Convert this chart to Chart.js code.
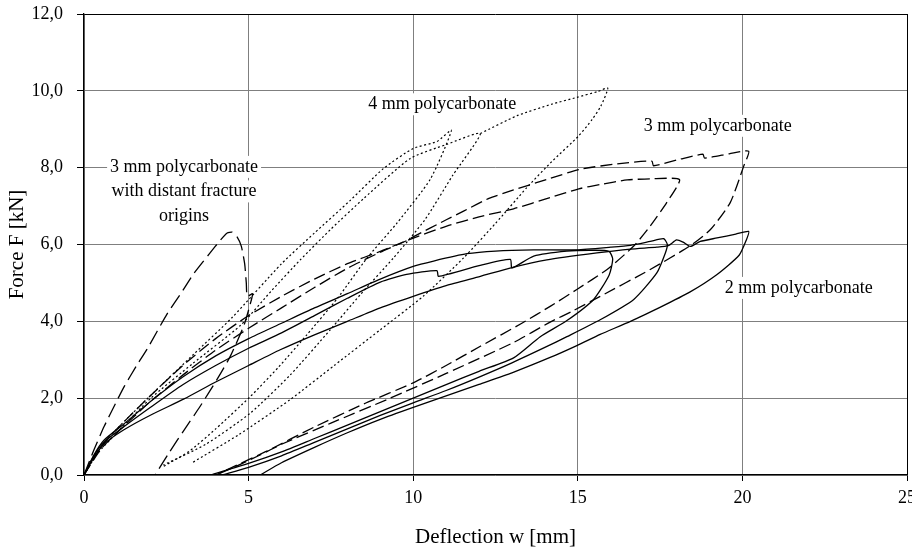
<!DOCTYPE html>
<html>
<head>
<meta charset="utf-8">
<script src="https://cdn.jsdelivr.net/npm/chart.js@4.4.1/dist/chart.umd.min.js"></script>
<style>
html, body { margin: 0; padding: 0; background: #fff; }
</style>
</head>
<body>
<canvas id="myChart" width="912" height="552"></canvas>
<script>
// axis ticks
const xTicks = [0, 5, 10, 15, 20, 25];
const yTicks = [0, 2, 4, 6, 8, 10, 12];

// [deflection w (mm), force F (kN)]

// 2 mm polycarbonate, solid
const pc2Cycle1 = [[0,0],[0.3,0.5],[0.6,0.85],[1.2,1.25],[2,1.75],[3,2.35],[4,2.85],[5,3.3],[6,3.7],[7,4.15],[8,4.6],[9,5.02],[9.8,5.22],[10.72,5.32],[10.77,5.17],[12,5.45],[12.95,5.61],[13,5.39],[13.66,5.7],[14.67,5.83],[15.5,5.85],[15.95,5.82],[16.06,5.62],[15.95,5.2],[15.48,4.57],[14.67,4.02],[13.86,3.6],[13.05,3.05],[12,2.7],[11,2.35],[10,2],[9,1.65],[8,1.3],[7,0.95],[6,0.6],[5,0.3],[3.85,0]];
const pc2Cycle2 = [[0,0],[0.3,0.52],[0.6,0.9],[1.2,1.32],[2,1.9],[3,2.55],[4,3.1],[5,3.55],[6,3.95],[7,4.35],[8,4.72],[9,5.1],[10,5.43],[10.62,5.57],[11.63,5.76],[12.5,5.83],[13.66,5.86],[14.97,5.86],[16,5.93],[16.6,5.98],[17.2,6.08],[17.61,6.15],[17.72,6],[17.66,5.78],[17.4,5.26],[16.7,4.57],[15.68,4.04],[14.67,3.6],[14,3.32],[13,2.92],[12,2.55],[11,2.2],[10,1.88],[9,1.55],[8,1.2],[7,0.85],[6,0.5],[5,0.2],[4.2,0]];
const pc2Cycle3 = [[0,0],[0.3,0.45],[0.6,0.8],[1.2,1.17],[2,1.55],[3.04,1.98],[4,2.42],[5,2.85],[5.96,3.26],[7,3.65],[8,4],[9,4.35],[10,4.65],[11,4.93],[12.04,5.17],[13,5.4],[14.06,5.6],[15.58,5.78],[16.6,5.88],[17.4,5.93],[17.75,5.97],[18,6.12],[18.2,6.06],[18.42,5.95],[18.72,6.08],[19.23,6.17],[19.8,6.27],[20.19,6.34],[20.12,6.12],[19.9,5.72],[19.23,5.22],[18.4,4.76],[17.51,4.37],[16.6,4],[15.68,3.66],[14.97,3.37],[14.16,3.06],[13,2.66],[12,2.36],[11,2.06],[10,1.76],[9,1.45],[8,1.1],[7,0.72],[6,0.32],[5.35,0]];

// 3 mm polycarbonate, dashed
const pc3Cycle1 = [[0,0],[0.5,0.72],[1,1.2],[2,2.05],[3,2.85],[4,3.55],[5,4.15],[6,4.65],[7,5.1],[8,5.5],[9,5.82],[9.8,6.1],[11.02,6.48],[12,6.72],[13.05,6.93],[14.16,7.22],[15.03,7.45],[15.68,7.56],[16.5,7.68],[17.2,7.71],[18.09,7.69],[17.7,7.09],[17.2,6.48],[16.7,5.96],[15.89,5.35],[14.97,4.83],[14.16,4.39],[13.3,3.95],[12.04,3.35],[11,2.85],[10,2.4],[8.5,1.85],[7,1.25],[5.5,0.6],[4.5,0.2],[4,0]];
const pc3Cycle2 = [[0,0],[0.5,0.66],[1,1.1],[2,1.9],[3,2.6],[4,3.25],[5,3.82],[6,4.35],[7,4.88],[8,5.38],[9,5.8],[9.8,6.1],[10,6.2],[11.02,6.65],[11.53,6.87],[12.3,7.2],[13.05,7.42],[14.16,7.72],[15.08,7.96],[16.2,8.1],[17.25,8.17],[17.3,8.05],[18.1,8.22],[18.8,8.35],[18.85,8.25],[19.6,8.36],[20.19,8.43],[20.04,8.04],[19.63,7.09],[19.03,6.39],[18.42,5.97],[17.2,5.35],[15.68,4.65],[14.87,4.28],[14.16,3.98],[13.05,3.45],[11.02,2.65],[9.3,2],[7.5,1.35],[6,0.8],[5.3,0.5],[4.6,0.22],[4,0]];

// 3 mm polycarbonate with distant fracture origins, long dashes
const pc3Distant = [[0,0],[0.3,0.65],[0.61,1.26],[0.95,1.85],[1.22,2.3],[1.6,2.85],[1.92,3.28],[2.53,4.2],[3,4.8],[3.34,5.25],[3.8,5.75],[4.15,6.12],[4.35,6.3],[4.5,6.32],[4.65,6.2],[4.78,5.95],[4.88,5.5],[4.93,5],[4.96,4.65],[5.12,4.72],[5.05,4.45],[4.86,3.9],[4.45,3.1],[4.05,2.5],[3.5,1.75],[3.04,1.17],[2.6,0.6],[2.16,0]];

// 4 mm polycarbonate, dotted
const pc4Cycle1 = [[0,0],[0.4,0.6],[1,1.2],[2,2.05],[3.34,3.15],[4.5,4.1],[6,5.5],[7,6.3],[8.09,7.15],[9.1,7.98],[10,8.5],[10.72,8.68],[11.16,8.97],[10.52,7.7],[9.5,6.55],[8.6,5.65],[7.7,4.6],[6.77,3.65],[5.9,2.8],[5.05,2.04],[4,1.2],[3.2,0.62],[2.41,0.22]];
const pc4Cycle2 = [[0,0],[0.4,0.55],[1,1.1],[2.03,2],[3.3,2.9],[4.76,3.9],[5.7,4.8],[6.57,5.6],[7.5,6.4],[8.5,7.2],[9.91,8.24],[11,8.6],[12.04,8.89],[11.2,7.8],[10.36,6.65],[9.4,5.65],[8.4,4.7],[7.48,3.78],[6.26,2.6],[5.05,1.61],[3.7,0.8],[2.41,0.26]];
const pc4Cycle3 = [[12.04,8.89],[13.15,9.35],[14.2,9.65],[14.97,9.83],[15.6,9.98],[15.91,10.07],[15.7,9.6],[15.43,9.25],[15.03,8.83],[14.2,8.15],[13.45,7.48],[12.5,6.55],[11.53,5.65],[10.3,4.65],[9,3.78],[7.6,2.85],[6.26,1.96],[4.7,1.05],[3.27,0.31]];

const toPoints = arr => arr.map(p => ({ x: p[0], y: p[1] }));

const SOLID = [];
const DASH = [12, 5];
const LONG_DASH = [15, 6];
const DOT = [2, 2.5];

const series = [
    { data: pc2Cycle1, dash: SOLID },
    { data: pc2Cycle2, dash: SOLID },
    { data: pc2Cycle3, dash: SOLID },
    { data: pc3Cycle1, dash: DASH },
    { data: pc3Cycle2, dash: DASH },
    { data: pc3Distant, dash: LONG_DASH },
    { data: pc4Cycle1, dash: DOT },
    { data: pc4Cycle2, dash: DOT },
    { data: pc4Cycle3, dash: DOT }
];

// text labels, anchored in data units
const notes = [
    { lines: ['4 mm polycarbonate'], x: 10.88, y: 9.65 },
    { lines: ['3 mm polycarbonate'], x: 19.25, y: 9.09 },
    { lines: ['2 mm polycarbonate'], x: 21.71, y: 4.87 },
    { lines: ['3 mm polycarbonate', 'with distant fracture', 'origins'], x: 3.04, y: 8.02 }
];

const serif = "'Liberation Serif', 'Times New Roman', serif";

const notesPlugin = {
    id: 'notes',
    beforeDatasetsDraw(chart) {
        const ctx = chart.ctx;
        const sx = chart.scales.x;
        const sy = chart.scales.y;
        ctx.save();
        ctx.font = '18px ' + serif;
        ctx.textAlign = 'center';
        ctx.textBaseline = 'middle';
        notes.forEach(n => {
            const cx = sx.getPixelForValue(n.x);
            let cy = sy.getPixelForValue(n.y);
            n.lines.forEach(line => {
                const w = ctx.measureText(line).width;
                ctx.fillStyle = '#fff';
                ctx.fillRect(cx - w / 2 - 3, cy - 11, w + 6, 22);
                ctx.fillStyle = '#000';
                ctx.fillText(line, cx, cy);
                cy += 24.5;
            });
        });
        ctx.restore();
    }
};

const ctx = document.getElementById('myChart').getContext('2d');

new Chart(ctx, {
    type: 'scatter',
    data: {
        datasets: series.map(s => ({
            data: toPoints(s.data),
            showLine: true,
            borderColor: '#000',
            borderWidth: s.dash === DOT ? 1.2 : 1.3,
            borderDash: s.dash,
            pointRadius: 0,
            tension: 0.2,
            fill: false
        }))
    },
    options: {
        responsive: false,
        animation: false,
        layout: { padding: { top: 14, right: 5, left: 0, bottom: 0 } },
        plugins: {
            legend: { display: false },
            tooltip: { enabled: false }
        },
        scales: {
            x: {
                type: 'linear',
                min: xTicks[0],
                max: xTicks[xTicks.length - 1],
                afterBuildTicks: scale => { scale.ticks = xTicks.map(v => ({ value: v })); },
                afterFit: scale => {
                    scale.height = 77;
                    scale.paddingLeft = 0;
                    scale.paddingRight = 0;
                },
                ticks: {
                    color: '#000',
                    font: { family: serif, size: 18 },
                    padding: 6,
                    maxRotation: 0,
                    callback: v => String(v)
                },
                grid: {
                    color: c => (c.tick && c.tick.value === 25) ? '#000' : '#7f7f7f',
                    lineWidth: 1,
                    tickLength: 6,
                    tickColor: '#000'
                },
                border: { color: '#000', width: 1.3 },
                title: {
                    display: true,
                    text: 'Deflection w [mm]',
                    color: '#000',
                    font: { family: serif, size: 21 },
                    padding: { top: 4, bottom: 2 }
                }
            },
            y: {
                min: yTicks[0],
                max: yTicks[yTicks.length - 1],
                afterBuildTicks: scale => { scale.ticks = yTicks.map(v => ({ value: v })); },
                afterFit: scale => {
                    scale.width = 84;
                    scale.paddingTop = 0;
                    scale.paddingBottom = 0;
                },
                ticks: {
                    color: '#000',
                    font: { family: serif, size: 18 },
                    padding: 14,
                    callback: v => v.toFixed(1).replace('.', ',')
                },
                grid: {
                    color: c => (c.tick && c.tick.value === 12) ? '#000' : '#7f7f7f',
                    lineWidth: 1,
                    tickLength: 7,
                    tickColor: '#000'
                },
                border: { color: '#000', width: 1.3 },
                title: {
                    display: true,
                    text: 'Force F [kN]',
                    color: '#000',
                    font: { family: serif, size: 21 },
                    padding: { top: 5, bottom: 0 }
                }
            }
        }
    },
    plugins: [notesPlugin]
});
</script>
</body>
</html>
